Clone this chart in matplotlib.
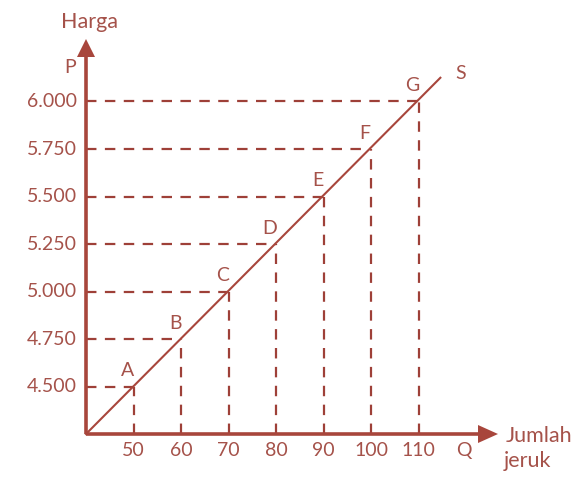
import matplotlib
matplotlib.use("Agg")
import matplotlib.pyplot as plt

# Data
labels = ["A", "B", "C", "D", "E", "F", "G"]
quantity = [50, 60, 70, 80, 90, 100, 110]
price = [4500, 4750, 5000, 5250, 5500, 5750, 6000]
ytick_labels = ["4.500", "4.750", "5.000", "5.250", "5.500", "5.750", "6.000"]
xtick_labels = ["50", "60", "70", "80", "90", "100", "110"]
origin_q, origin_p = 40, 4250
supply_end = (114.6, 6125)

AX = "#a8463c"
TXT = "#a5524a"
FONT = "Lato"

fig = plt.figure(figsize=(5.84, 4.82), dpi=100)
ax = fig.add_axes([0, 0, 1, 1])
ax.set_xlim(21.895, 144.84)
ax.set_ylim(3997.4, 6534.2)
ax.axis("off")

# pixel helpers for decorations (arrowheads / text placement)
def px2q(px):
    return 40 + (px - 86) / 4.75

def py2p(py):
    return 4250 + (434 - py) / 0.19

# axes lines
ax.plot([origin_q, px2q(482)], [origin_p, origin_p], color=AX, lw=2.6, solid_capstyle="butt", zorder=3)
ax.plot([origin_q, origin_q], [origin_p, py2p(56)], color=AX, lw=2.6, solid_capstyle="butt", zorder=3)
# arrowheads
ax.fill([px2q(478), px2q(498), px2q(478)], [py2p(425), py2p(434), py2p(443)], color=AX, lw=0, zorder=4)
ax.fill([px2q(77), px2q(86), px2q(95)], [py2p(57), py2p(39), py2p(57)], color=AX, lw=0, zorder=4)

# dashed guide lines
DCOL = "#9e4038"
for q, p in zip(quantity, price):
    ax.plot([origin_q, q], [p, p], color=DCOL, lw=1.6, dashes=(4.7, 3.8), zorder=2)
    ax.plot([q, q], [origin_p, p], color=DCOL, lw=1.6, dashes=(4.7, 3.8), zorder=2)

# supply line
ax.plot([origin_q, supply_end[0]], [origin_p, supply_end[1]], color=AX, lw=1.5, zorder=3)

fs = 14
kw = dict(color=TXT, fontsize=fs, family=FONT)
kw_word = dict(color=TXT, fontsize=15.5, family=FONT)
# point labels
for lab, q, p in zip(labels, quantity, price):
    ax.text(q - 6 / 4.75, p + 16 / 0.19, lab, ha="center", va="center", **kw)
ax.text(px2q(461), py2p(74), "S", ha="center", va="center", **kw)

# tick labels
for p, t in zip(price, ytick_labels):
    ax.text(px2q(77), p, t, ha="right", va="center", **kw)
for q, t in zip(quantity, xtick_labels):
    ax.text(q, py2p(450), t, ha="center", va="center", **kw)

ax.text(px2q(464), py2p(450), "Q", ha="center", va="center", **kw)
ax.text(px2q(506), py2p(436), "Jumlah", ha="left", va="center", **kw_word)
ax.text(px2q(504), py2p(461), "jeruk", ha="left", va="center", **kw_word)
ax.text(px2q(89), py2p(22), "Harga", ha="center", va="center", **kw_word)
ax.text(px2q(70), py2p(68), "P", ha="center", va="center", **kw)

fig.savefig("out.png", dpi=100)
